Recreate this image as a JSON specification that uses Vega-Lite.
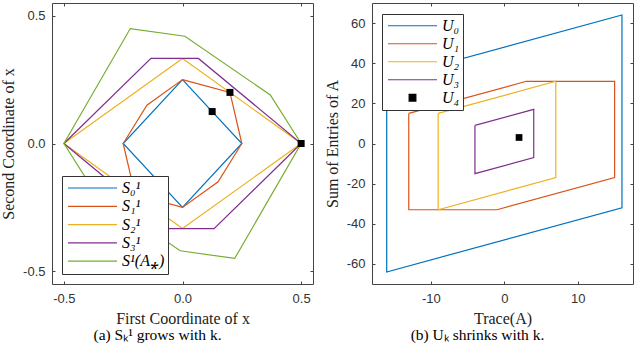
{
  "$schema": "https://vega.github.io/schema/vega-lite/v6.json",
  "padding": {"left": 0, "top": 2, "right": 5, "bottom": 0},
  "spacing": 59,
  "bounds": "flush",
  "resolve": {"scale": {"color": "independent"}, "legend": {"color": "independent"}},
  "config": {
    "view": {"stroke": "#444", "strokeWidth": 1},
    "axis": {"grid": false, "domain": false, "tickSize": -3, "tickColor": "#444", "labelFont": "Liberation Sans", "labelFontSize": 13, "labelColor": "#333", "titleFont": "Liberation Serif", "titleFontSize": 16, "titleFontWeight": "normal", "titleColor": "#222"},
    "legend": {"labelFont": "Liberation Serif", "labelFontStyle": "italic", "labelFontSize": 16, "labelColor": "black", "symbolType": "stroke", "symbolSize": 2401, "symbolStrokeWidth": 1.2, "symbolOffset": 2, "clipHeight": 18, "rowPadding": 0.3, "padding": 3, "strokeColor": "#333", "fillColor": "white", "labelOffset": 4}
  },
  "datasets": {
    "sets": [
      {"set": "S₀¹", "i": 0, "x": 0, "y": 0.25},
      {"set": "S₀¹", "i": 1, "x": 0.25, "y": 0},
      {"set": "S₀¹", "i": 2, "x": 0, "y": -0.25},
      {"set": "S₀¹", "i": 3, "x": -0.25, "y": 0},
      {"set": "S₀¹", "i": 4, "x": 0, "y": 0.25},
      {"set": "S₁¹", "i": 0, "x": 0, "y": 0.25},
      {"set": "S₁¹", "i": 1, "x": 0.2, "y": 0.2},
      {"set": "S₁¹", "i": 2, "x": 0.25, "y": 0},
      {"set": "S₁¹", "i": 3, "x": 0.15, "y": -0.15},
      {"set": "S₁¹", "i": 4, "x": 0, "y": -0.25},
      {"set": "S₁¹", "i": 5, "x": -0.2, "y": -0.2},
      {"set": "S₁¹", "i": 6, "x": -0.25, "y": 0},
      {"set": "S₁¹", "i": 7, "x": -0.15, "y": 0.15},
      {"set": "S₁¹", "i": 8, "x": 0, "y": 0.25},
      {"set": "S₂¹", "i": 0, "x": 0, "y": 0.333},
      {"set": "S₂¹", "i": 1, "x": 0.5, "y": 0},
      {"set": "S₂¹", "i": 2, "x": 0, "y": -0.333},
      {"set": "S₂¹", "i": 3, "x": -0.5, "y": 0},
      {"set": "S₂¹", "i": 4, "x": 0, "y": 0.333},
      {"set": "S₃¹", "i": 0, "x": -0.5, "y": 0},
      {"set": "S₃¹", "i": 1, "x": -0.133, "y": 0.333},
      {"set": "S₃¹", "i": 2, "x": 0.067, "y": 0.333},
      {"set": "S₃¹", "i": 3, "x": 0.5, "y": 0},
      {"set": "S₃¹", "i": 4, "x": 0.133, "y": -0.333},
      {"set": "S₃¹", "i": 5, "x": -0.067, "y": -0.333},
      {"set": "S₃¹", "i": 6, "x": -0.5, "y": 0},
      {"set": "S¹(A⁎)", "i": 0, "x": -0.5, "y": 0},
      {"set": "S¹(A⁎)", "i": 1, "x": -0.22, "y": 0.45},
      {"set": "S¹(A⁎)", "i": 2, "x": 0.01, "y": 0.42},
      {"set": "S¹(A⁎)", "i": 3, "x": 0.37, "y": 0.19},
      {"set": "S¹(A⁎)", "i": 4, "x": 0.5, "y": 0},
      {"set": "S¹(A⁎)", "i": 5, "x": 0.22, "y": -0.45},
      {"set": "S¹(A⁎)", "i": 6, "x": -0.01, "y": -0.42},
      {"set": "S¹(A⁎)", "i": 7, "x": -0.37, "y": -0.19},
      {"set": "S¹(A⁎)", "i": 8, "x": -0.5, "y": 0}
    ],
    "spts": [
      {"x": 0.125, "y": 0.125},
      {"x": 0.2, "y": 0.2},
      {"x": 0.5, "y": 0}
    ],
    "usets": [
      {"set": "U₀", "i": 0, "x": -16, "y": 32},
      {"set": "U₀", "i": 1, "x": 16, "y": 64},
      {"set": "U₀", "i": 2, "x": 16, "y": -32},
      {"set": "U₀", "i": 3, "x": -16, "y": -64},
      {"set": "U₀", "i": 4, "x": -16, "y": 32},
      {"set": "U₁", "i": 0, "x": -13, "y": 15},
      {"set": "U₁", "i": 1, "x": 3, "y": 31},
      {"set": "U₁", "i": 2, "x": 15, "y": 31},
      {"set": "U₁", "i": 3, "x": 15, "y": -17},
      {"set": "U₁", "i": 4, "x": -1, "y": -33},
      {"set": "U₁", "i": 5, "x": -13, "y": -33},
      {"set": "U₁", "i": 6, "x": -13, "y": 15},
      {"set": "U₂", "i": 0, "x": -9, "y": 15},
      {"set": "U₂", "i": 1, "x": 7, "y": 31},
      {"set": "U₂", "i": 2, "x": 7, "y": -17},
      {"set": "U₂", "i": 3, "x": -9, "y": -33},
      {"set": "U₂", "i": 4, "x": -9, "y": 15},
      {"set": "U₃", "i": 0, "x": -4, "y": 9},
      {"set": "U₃", "i": 1, "x": 4, "y": 17},
      {"set": "U₃", "i": 2, "x": 4, "y": -7},
      {"set": "U₃", "i": 3, "x": -4, "y": -15},
      {"set": "U₃", "i": 4, "x": -4, "y": 9}
    ],
    "upts": [
      {"set": "U₄", "x": 2, "y": 3}
    ]
  },
  "hconcat": [
    {
      "width": 261,
      "height": 281,
      "title": {"text": "(a) Sₖ¹ grows with k.", "orient": "bottom", "anchor": "middle", "dx": -25, "offset": 2, "font": "Liberation Serif", "fontSize": 15.5, "fontWeight": "normal", "color": "black"},
      "layer": [
        {
          "data": {"name": "sets"},
          "mark": {"type": "line", "strokeWidth": 1.2},
          "encoding": {
            "x": {"field": "x", "type": "quantitative", "scale": {"domain": [-0.55, 0.55], "nice": false, "zero": false},
                  "axis": {"orient": "bottom", "values": [-0.5, 0, 0.5], "title": "First Coordinate of x", "labelPadding": 11, "titlePadding": 5, "labelExpr": "replace(datum.label, '−', '-')"}},
            "y": {"field": "y", "type": "quantitative", "scale": {"domain": [-0.55, 0.55], "nice": false, "zero": false},
                  "axis": {"orient": "left", "values": [-0.5, 0, 0.5], "title": "Second Coordinate of x", "labelPadding": 10, "titlePadding": 6, "labelExpr": "replace(datum.label, '−', '-')"}},
            "color": {"field": "set", "type": "nominal",
                      "scale": {"domain": ["S₀¹", "S₁¹", "S₂¹", "S₃¹", "S¹(A⁎)"], "range": ["#0072BD", "#D95319", "#EDB120", "#7E2F8E", "#77AC30"]},
                      "legend": {"title": null, "orient": "none", "legendX": 10, "legendY": 173, "symbolType": "stroke"}},
            "order": {"field": "i", "type": "quantitative"}
          }
        },
        {
          "data": {"name": "spts"},
          "mark": {"type": "square", "color": "black", "size": 49, "opacity": 1},
          "encoding": {
            "x": {"field": "x", "type": "quantitative", "axis": {"orient": "top", "values": [-0.5, 0, 0.5], "labels": false, "title": null}},
            "y": {"field": "y", "type": "quantitative", "axis": {"orient": "right", "values": [-0.5, 0, 0.5], "labels": false, "title": null}}
          }
        }
      ],
      "resolve": {"axis": {"x": "independent", "y": "independent"}}
    },
    {
      "width": 261,
      "height": 281,
      "title": {"text": "(b) Uₖ shrinks with k.", "orient": "bottom", "anchor": "middle", "dx": -25, "offset": 2, "font": "Liberation Serif", "fontSize": 15.5, "fontWeight": "normal", "color": "black"},
      "layer": [
        {
          "data": {"name": "usets"},
          "mark": {"type": "line", "strokeWidth": 1.2},
          "encoding": {
            "x": {"field": "x", "type": "quantitative", "scale": {"domain": [-18, 17.5], "nice": false, "zero": false},
                  "axis": {"orient": "bottom", "values": [-10, 0, 10], "title": "Trace(A)", "labelPadding": 11, "titlePadding": 5, "labelExpr": "replace(datum.label, '−', '-')"}},
            "y": {"field": "y", "type": "quantitative", "scale": {"domain": [-70, 70], "nice": false, "zero": false},
                  "axis": {"orient": "left", "values": [-60, -40, -20, 0, 20, 40, 60], "title": "Sum of Entries of A", "labelPadding": 10, "titlePadding": 6, "labelExpr": "replace(datum.label, '−', '-')"}},
            "color": {"field": "set", "type": "nominal",
                      "scale": {"domain": ["U₀", "U₁", "U₂", "U₃", "U₄"], "range": ["#0072BD", "#D95319", "#EDB120", "#7E2F8E", "black"]},
                      "legend": {"title": null, "orient": "none", "legendX": 10, "legendY": 11, "symbolType": "stroke", "clipHeight": 17.5, "rowPadding": 0,
                                 "encode": {"symbols": {"update": {
                                   "shape": {"signal": "datum.value === 'U₄' ? 'square' : 'stroke'"},
                                   "size": {"signal": "datum.value === 'U₄' ? 45 : 2401"},
                                   "fill": {"signal": "datum.value === 'U₄' ? 'black' : 'transparent'"},
                                   "stroke": {"signal": "datum.value === 'U₄' ? 'transparent' : scale('color', datum.value)"}
                                 }}}}},
            "order": {"field": "i", "type": "quantitative"}
          }
        },
        {
          "data": {"name": "upts"},
          "mark": {"type": "square", "size": 45, "opacity": 1, "filled": true},
          "encoding": {
            "x": {"field": "x", "type": "quantitative", "axis": {"orient": "top", "values": [-10, 0, 10], "labels": false, "title": null}},
            "y": {"field": "y", "type": "quantitative", "axis": {"orient": "right", "values": [-60, -40, -20, 0, 20, 40, 60], "labels": false, "title": null}},
            "color": {"field": "set", "type": "nominal"}
          }
        }
      ],
      "resolve": {"axis": {"x": "independent", "y": "independent"}}
    }
  ]
}
